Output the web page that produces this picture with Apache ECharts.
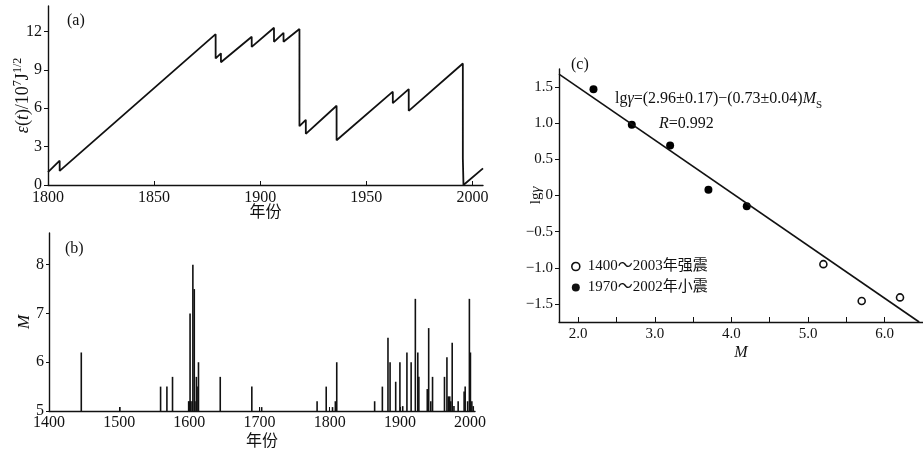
<!DOCTYPE html>
<html><head><meta charset="utf-8">
<script src="https://cdn.jsdelivr.net/npm/echarts@6/dist/echarts.min.js"></script>
<style>html,body{margin:0;padding:0;background:#fff}#c{width:923px;height:455px}</style>
</head><body><div id="c"></div>
<script>
// (a) strain release curve
const strainYears = [1800,1805.5,1805.5,1879,1879,1881.5,1881.5,1896,1896,1906.5,1906.5,1911,1911,1918.5,1918.5,1921.5,1921.5,1936,1936,1962.5,1962.5,1970,1970,1995.5,1995.5,1995.8,2005];
const strainValues = [1.0,1.9,1.1,11.8,9.9,10.3,9.6,11.6,10.8,12.3,11.2,11.9,11.2,12.2,4.6,5.1,4.0,6.2,3.5,7.3,6.4,7.5,5.8,9.5,2.1,0.0,1.3];
const aXTicks = [1800,1850,1900,1950,2000];
const aYTicks = [0,3,6,9,12];
// (b) earthquake magnitudes
const quakeYears = [1446,1501,1559,1568,1576,1599,1600,1601,1602,1604,1605,1607,1608,1610,1611,1613,1644,1689,1703,1782,1795,1804,1808,1810,1864,1875,1883,1886,1894,1900,1904,1910,1916,1922,1925.5,1927,1939,1941,1944,1946.5,1963.5,1967,1969,1971,1972.5,1974.5,1977,1983,1991.5,1993,1996.5,1999,2000.5,2002.5,2004.5];
const quakeMags  = [6.2,5.08,5.5,5.5,5.7,5.2,5.2,7.0,5.2,5.2,8.0,7.5,5.2,5.7,5.5,6.0,5.7,5.5,5.08,5.2,5.5,5.08,5.2,6.0,5.2,5.5,6.5,6.0,5.6,6.0,5.1,6.2,6.0,7.3,6.2,5.7,5.45,6.7,5.2,5.7,5.7,6.1,5.3,5.3,5.2,6.4,5.1,5.2,5.4,5.5,5.2,7.3,6.2,5.2,5.1];
const bXTicks = [1400,1500,1600,1700,1800,1900,2000];
const bYTicks = [5,6,7,8];
// (c) lg gamma vs M
const smallM  = [2.2,2.7,3.2,3.7,4.2];
const smallLg = [1.47,0.98,0.69,0.08,-0.15];
const strongM  = [5.2,5.7,6.2];
const strongLg = [-0.95,-1.46,-1.41];
const fitM  = [1.75,6.45];
const fitLg = [1.68,-1.75];
const cXTicks = [2,2.5,3,3.5,4,4.5,5,5.5,6];
const cXLabels = [2,3,4,5,6];
const cYTicks = [-1.5,-1,-0.5,0,0.5,1,1.5];
const legendNames = ['1400～2003年强震','1970～2002年小震'];

const FONT = "'Liberation Serif','DejaVu Serif','Noto Sans CJK SC',serif";
const INK = '#111';
const zip = (a,b) => a.map((v,i)=>[v,b[i]]);
const axisLine = {show:true, onZero:false, lineStyle:{color:INK, width:1.4}};
const yearFmt = v => String(v);

function fmtC(v){ if (v===0) return '0'; return (v<0?'−':'') + Math.abs(v).toFixed(1); }

const chart = echarts.init(document.getElementById('c'), null, {renderer:'canvas'});
chart.setOption({
  animation:false,
  backgroundColor:'#fff',
  textStyle:{fontFamily:FONT, color:INK},
  grid:[
    {left:48, top:6, width:435, height:179},
    {left:49, top:233, width:426, height:178},
    {left:559, top:69, width:364, height:253}
  ],
  xAxis:[
    {gridIndex:0, type:'value', min:1800, max:2005, interval:50, axisLine,
     splitLine:{show:false}, axisTick:{inside:true, length:4, customValues:aXTicks, lineStyle:{color:INK}},
     axisLabel:{customValues:aXTicks, margin:5, fontSize:16, color:INK, fontFamily:FONT, formatter:yearFmt},
     name:'年份', nameLocation:'middle', nameGap:20, nameMoveOverlap:false, nameTextStyle:{fontSize:16, color:INK, fontFamily:FONT}},
    {gridIndex:1, type:'value', min:1400, max:2007, interval:100, axisLine,
     splitLine:{show:false}, axisTick:{inside:true, length:4, customValues:bXTicks, lineStyle:{color:INK}},
     axisLabel:{customValues:bXTicks, margin:4, fontSize:16, color:INK, fontFamily:FONT, formatter:yearFmt},
     name:'年份', nameLocation:'middle', nameGap:23, nameMoveOverlap:false, nameTextStyle:{fontSize:16, color:INK, fontFamily:FONT}},
    {gridIndex:2, type:'value', min:1.75, max:6.5, interval:0.5, axisLine,
     splitLine:{show:false}, axisTick:{inside:true, length:5, customValues:cXTicks, lineStyle:{color:INK}},
     axisLabel:{customValues:cXLabels, margin:5, fontSize:15, color:INK, fontFamily:FONT, formatter:v=>v.toFixed(1)},
     name:'M', nameLocation:'middle', nameGap:23, nameMoveOverlap:false, nameTextStyle:{fontSize:16, fontStyle:'italic', color:INK, fontFamily:FONT}}
  ],
  yAxis:[
    {gridIndex:0, type:'value', min:0, max:14, interval:3, axisLine,
     splitLine:{show:false}, axisTick:{inside:false, length:4, customValues:aYTicks, lineStyle:{color:INK}},
     axisLabel:{customValues:aYTicks, margin:6, fontSize:16, color:INK, fontFamily:FONT},
     name:'{i|ε}({i|t})/10{sup|7}J{sup|1/2}', nameLocation:'middle', nameRotate:90, nameGap:14, nameMoveOverlap:false,
     nameTextStyle:{fontSize:18, color:INK, fontFamily:FONT, lineHeight:22,
       rich:{i:{fontStyle:'italic', fontSize:18, fontFamily:FONT, lineHeight:22},
             sup:{fontSize:12, fontFamily:FONT, verticalAlign:'top', lineHeight:14}}}},
    {gridIndex:1, type:'value', min:5, max:8.65, interval:1, axisLine,
     splitLine:{show:false}, axisTick:{inside:false, length:3, customValues:bYTicks, lineStyle:{color:INK}},
     axisLabel:{customValues:bYTicks, margin:5, fontSize:16, color:INK, fontFamily:FONT},
     name:'M', nameLocation:'middle', nameRotate:90, nameGap:16, nameMoveOverlap:false,
     nameTextStyle:{fontSize:17, fontStyle:'italic', color:INK, fontFamily:FONT}},
    {gridIndex:2, type:'value', min:-1.75, max:1.75, interval:0.5, axisLine,
     splitLine:{show:false}, axisTick:{inside:false, length:4, customValues:cYTicks, lineStyle:{color:INK}},
     axisLabel:{customValues:cYTicks, margin:6, fontSize:15, color:INK, fontFamily:FONT, formatter:fmtC},
     name:'lg{i|γ}', nameLocation:'middle', nameRotate:90, nameGap:15, nameMoveOverlap:false,
     nameTextStyle:{fontSize:15, color:INK, fontFamily:FONT, rich:{i:{fontStyle:'italic', fontSize:15, fontFamily:FONT}}}}
  ],
  legend:{
    orient:'vertical', left:566, top:254, itemWidth:14, itemHeight:8, itemGap:6,
    textStyle:{fontSize:15, color:INK, fontFamily:FONT},
    data:[
      {name:legendNames[0], icon:'circle', itemStyle:{color:'#fff', borderColor:INK, borderWidth:1.6, opacity:1}},
      {name:legendNames[1], icon:'circle', itemStyle:{color:INK, borderWidth:0, opacity:1}}
    ]
  },
  series:[
    {type:'line', xAxisIndex:0, yAxisIndex:0, data:zip(strainYears,strainValues), showSymbol:false, symbol:'none',
     lineStyle:{color:INK, width:1.8}, clip:false},
    {type:'bar', xAxisIndex:1, yAxisIndex:1, data:zip(quakeYears,quakeMags), barWidth:1.6,
     itemStyle:{color:INK}, clip:true},
    {type:'line', xAxisIndex:2, yAxisIndex:2, data:zip(fitM,fitLg), symbol:'none', lineStyle:{color:INK, width:1.6}, clip:false},
    {name:legendNames[1], type:'scatter', xAxisIndex:2, yAxisIndex:2, data:zip(smallM,smallLg), symbol:'circle', symbolSize:8,
     itemStyle:{color:'#000', opacity:1}},
    {name:legendNames[0], type:'scatter', xAxisIndex:2, yAxisIndex:2, data:zip(strongM,strongLg), symbol:'circle', symbolSize:7,
     itemStyle:{color:'#fff', borderColor:INK, borderWidth:1.6, opacity:1}}
  ],
  graphic:[
    {type:'text', left:67, top:13, style:{text:'(a)', fontSize:16, fontFamily:FONT, fill:INK}},
    {type:'text', left:65, top:241, style:{text:'(b)', fontSize:16, fontFamily:FONT, fill:INK}},
    {type:'text', left:571, top:57, style:{text:'(c)', fontSize:16, fontFamily:FONT, fill:INK}},
    {type:'text', left:615, top:91, style:{text:'lg{i|γ}=(2.96±0.17)−(0.73±0.04){i|M}{sub|S}', fontSize:16, fontFamily:FONT, fill:INK,
      rich:{i:{fontStyle:'italic', fontSize:16, fontFamily:FONT}, sub:{fontSize:11, fontFamily:FONT, verticalAlign:'bottom', lineHeight:23}}}},
    {type:'text', left:659, top:116, style:{text:'{i|R}=0.992', fontSize:16, fontFamily:FONT, fill:INK,
      rich:{i:{fontStyle:'italic', fontSize:16, fontFamily:FONT}}}}
  ]
});
</script></body></html>
